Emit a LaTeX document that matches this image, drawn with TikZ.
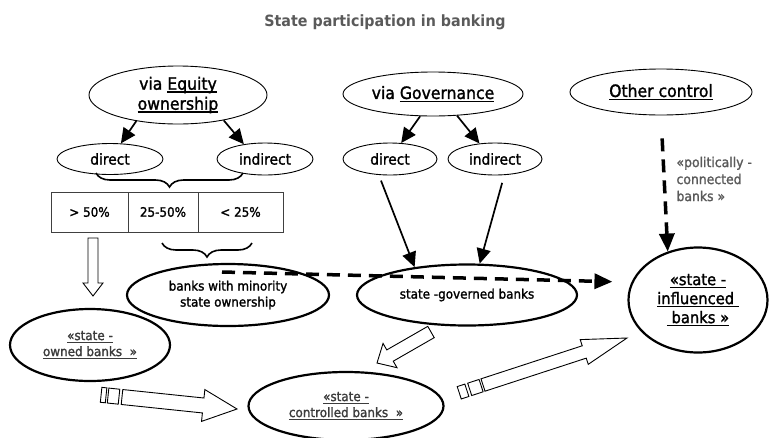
\documentclass[tikz,border=0pt]{standalone}
\usepackage{fontspec}
\setmainfont{DejaVu Sans}[FakeStretch=0.92, UprightFeatures={FakeBold=1.5}]
\usetikzlibrary{shapes.geometric,arrows.meta,decorations.pathreplacing,calc}

\definecolor{titlegray}{RGB}{90,90,90}
\definecolor{labelgray}{RGB}{60,60,60}

% sottolineatura spessa
\newcommand{\undl}[1]{\leavevmode\setbox0=\hbox{#1}\rlap{\rule[-3pt]{\wd0}{1.3pt}}\box0}

% freccia vuota: coda, punta, mezzo fusto, mezza testa, lunghezza testa
\newcommand{\hollowarrow}[5]{%
  \coordinate (hb) at ($(#2)!#5!(#1)$);
  \draw[blockarrow] ($(#1)!#3!90:(#2)$) -- ($(hb)!#3!90:(#2)$) -- ($(hb)!#4!90:(#2)$) -- (#2)
    -- ($(hb)!#4!-90:(#2)$) -- ($(hb)!#3!-90:(#2)$) -- ($(#1)!#3!-90:(#2)$) -- cycle;}

% tratto dietro la coda: coda, punta, da, a, mezzo fusto
\newcommand{\tailstripe}[5]{%
  \coordinate (sa) at ($(#1)!-#3!(#2)$);
  \coordinate (sb) at ($(#1)!-#4!(#2)$);
  \draw[blockarrow] ($(sa)!#5!90:(#2)$) -- ($(sb)!#5!90:(#2)$) -- ($(sb)!#5!-90:(#2)$) -- ($(sa)!#5!-90:(#2)$) -- cycle;}

\tikzset{
  oval/.style={draw, ellipse, inner sep=0pt, line width=0.9pt, align=center},
  bigoval/.style={oval, line width=2.2pt},
  bigtext/.style={font=\fontsize{17}{20}\selectfont},
  midtext/.style={font=\fontsize{15}{18}\selectfont},
  smalltext/.style={font=\fontsize{13}{16}\selectfont},
  cell/.style={draw=black!75, line width=0.9pt, minimum height=40pt, inner sep=0pt, font=\fontsize{13}{16}\selectfont},
  solidarrow/.style={-{Triangle[length=15pt,width=14pt]}, line width=1.7pt},
  dasharrow/.style={-{Triangle[length=18pt,width=15pt]}, line width=3.5pt, dash pattern=on 13pt off 8pt},
  blockarrow/.style={draw, line width=0.9pt, fill=white, line join=miter},
  underbrace/.style={decorate, decoration={brace, mirror, amplitude=14pt}, line width=1.6pt},
}

\begin{document}
\begin{tikzpicture}[x=1pt, y=-1pt]
\useasboundingbox (0,0) rectangle (770,437);

% Titolo
\node[font=\bfseries\fontsize{15.5}{18}\selectfont, text=titlegray] (title) at (385,22) {State participation in banking};

% Forme di partecipazione
\node[oval, bigtext, minimum width=178pt, minimum height=58pt] (equity) at (178,95) {via \undl{Equity}\\\undl{ownership}};
\node[oval, bigtext, minimum width=180pt, minimum height=44pt] (governance) at (433,94) {via \undl{Governance}};
\node[oval, bigtext, minimum width=182pt, minimum height=46pt] (other) at (661,92) {\undl{Other control}};

\node[oval, midtext, minimum width=106pt, minimum height=31pt] (eqdirect) at (110,159) {direct};
\node[oval, midtext, minimum width=96pt, minimum height=32pt] (eqindirect) at (265,159) {indirect};
\node[oval, midtext, minimum width=94pt, minimum height=32pt] (govdirect) at (390,159) {direct};
\node[oval, midtext, minimum width=94pt, minimum height=32pt] (govindirect) at (495,159) {indirect};

% Tabella delle quote
\node[cell, minimum width=77pt] (gt50) at (89.5,212) {> 50\%};
\node[cell, minimum width=70pt] (mid) at (163,212) {25-50\%};
\node[cell, minimum width=85pt] (lt25) at (240.5,212) {< 25\%};

% Categorie di banche
\node[bigoval, smalltext, minimum width=202pt, minimum height=62pt] (minority) at (228,295) {banks with minority\\state ownership};
\node[bigoval, smalltext, minimum width=220pt, minimum height=61pt] (governed) at (467,295) {state -governed banks};
\node[bigoval, smalltext, text=labelgray, minimum width=160pt, minimum height=72pt] (owned) at (90,345) {\undl{«state -}\\\undl{owned banks ~»}};
\node[bigoval, smalltext, text=labelgray, minimum width=195pt, minimum height=68pt] (controlled) at (346,406) {\undl{«state -}\\\undl{controlled banks ~»}};
\node[bigoval, font=\fontsize{16}{19}\selectfont, minimum width=139pt, minimum height=105pt] (influenced) at (698,300) {\undl{«state -}\\\undl{influenced~}\\\undl{~banks »}};

\node[font=\fontsize{13.5}{17}\selectfont, text=titlegray, align=left, anchor=west] (polit) at (673,179) {«politically -\\connected\\banks »};

% Parentesi graffe
\coordinate (b1l) at (96,173);
\coordinate (b1r) at (243,173);
\draw[underbrace] (b1l) -- (b1r);
\coordinate (b2l) at (162,243);
\coordinate (b2r) at (252,243);
\draw[underbrace] (b2l) -- (b2r);

% Frecce piene
\draw[solidarrow] (equity.212) -- (eqdirect.55);
\draw[solidarrow] (equity.331) -- (eqindirect.145);
\draw[solidarrow] (governance.240) -- (govdirect.55);
\draw[solidarrow] (governance.318) -- (govindirect.135);
\draw[solidarrow, shorten <=6pt] (govdirect.235) -- (governed.152);
\draw[solidarrow, shorten <=8pt] (govindirect.300) -- (governed.68);

% Frecce tratteggiate
\coordinate (dstart) at (222,272);
\draw[dasharrow, shorten >=19pt] (dstart) -- (influenced.165);
\draw[dasharrow, shorten <=23pt] (other.south) -- (influenced.122);

% Frecce vuote
\coordinate (atail) at (93,238);
\coordinate (atip) at (93,296);
\hollowarrow{atail}{atip}{5pt}{10pt}{13pt}
\coordinate (btail) at (431,332);
\coordinate (btip) at (377,363);
\hollowarrow{btail}{btip}{6.5pt}{14pt}{15pt}
\coordinate (ctail) at (122,397);
\coordinate (ctip) at (237,409);
\tailstripe{ctail}{ctip}{3pt}{14pt}{7.5pt}
\tailstripe{ctail}{ctip}{16pt}{21pt}{7.5pt}
\hollowarrow{ctail}{ctip}{7.5pt}{16pt}{34pt}
\coordinate (dtail) at (483,385);
\coordinate (dtip) at (627,338);
\tailstripe{dtail}{dtip}{2pt}{14pt}{6.5pt}
\tailstripe{dtail}{dtip}{17pt}{25pt}{6.5pt}
\hollowarrow{dtail}{dtip}{6.5pt}{13pt}{45pt}
\end{tikzpicture}
\end{document}
